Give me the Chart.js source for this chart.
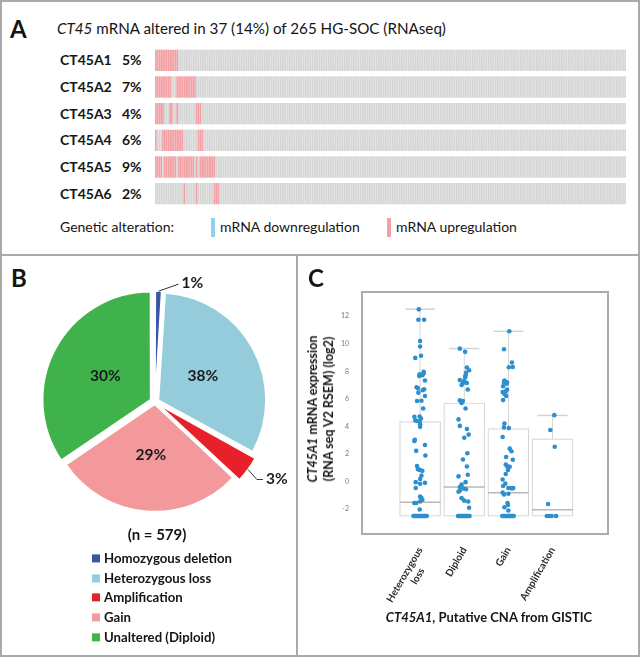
<!DOCTYPE html>
<html>
<head>
<meta charset="utf-8">
<title>CT45 figure</title>
<script src="https://cdn.jsdelivr.net/npm/chart.js@4.4.1/dist/chart.umd.min.js"></script>
<style>
  body { margin: 0; background: #fff; }
  #fig { position: relative; width: 640px; height: 657px; font-family: Lato, "Open Sans", sans-serif; color: #151515; overflow: hidden; background: #fff; }
  .t { position: absolute; white-space: nowrap; line-height: 1; transform: translateY(-50%); }
  .rule { position: absolute; background: #a9a9a9; }
  canvas { position: absolute; }
  .letter { font-size: 24px; font-weight: 700; }
  .gene { font-size: 14px; font-weight: 700; }
  .key { position: absolute; width: 4px; height: 19px; }
  .sq { display: inline-block; width: 8px; height: 8px; margin-right: 4px; vertical-align: 1px; }
</style>
</head>
<body>
<div id="fig">
  <div class="rule" style="left:0;top:0;width:640px;height:2px"></div>
  <div class="rule" style="left:0;top:655px;width:640px;height:2px"></div>
  <div class="rule" style="left:0;top:0;width:2px;height:657px"></div>
  <div class="rule" style="left:638px;top:0;width:2px;height:657px"></div>
  <div class="rule" style="left:0;top:254px;width:640px;height:2px"></div>
  <div class="rule" style="left:296px;top:254px;width:2px;height:403px"></div>

  <!-- panel A -->
  <div class="t letter" style="left:10px;top:29px">A</div>
  <div class="t" style="left:57px;top:29px;font-size:15.2px"><i>CT45</i> mRNA altered in 37 (14%) of 265 HG-SOC (RNAseq)</div>
  <canvas id="onco" width="471" height="160" style="left:155px;top:47px"></canvas>
  <div id="geneLabels"></div>
  <div class="t" style="left:60px;top:227px;font-size:14px">Genetic alteration:</div>
  <div class="key" style="left:211px;top:218px;background:#8fd1f0"></div>
  <div class="t" style="left:220px;top:227px;font-size:14px">mRNA downregulation</div>
  <div class="key" style="left:387px;top:218px;background:#f3a1a5"></div>
  <div class="t" style="left:396px;top:227px;font-size:14px">mRNA upregulation</div>

  <!-- panel B -->
  <div class="t letter" style="left:11px;top:278px">B</div>
  <canvas id="pie" width="285" height="260" style="left:25px;top:272px"></canvas>
  <div class="t" id="nCases" style="left:157px;top:534px;font-size:15px;font-weight:700;transform:translate(-50%,-50%)"></div>
  <div id="pieLegend"></div>

  <!-- panel C -->
  <div class="t letter" style="left:308px;top:278px">C</div>
  <canvas id="cna" width="330" height="370" style="left:300px;top:270px"></canvas>
  <div class="t" style="left:321px;top:409px;font-size:12.5px;font-weight:700;line-height:16px;text-align:center;transform:translate(-50%,-50%) rotate(-90deg)"><i>CT45A1</i> mRNA expression<br>(RNA seq V2 RSEM) (log2)</div>
  <div class="t" style="left:489px;top:617px;font-size:13px;font-weight:700;transform:translate(-50%,-50%)"><i>CT45A1</i>, Putative CNA from GISTIC</div>
</div>

<script>
Chart.defaults.font.family = 'Lato, "Open Sans", sans-serif';

// ---- panel A: oncoprint ----
const sampleCount = 265;
const genes = ['CT45A1', 'CT45A2', 'CT45A3', 'CT45A4', 'CT45A5', 'CT45A6'];
const genePct = ['5%', '7%', '4%', '6%', '9%', '2%'];
// sample columns (sorted order) with mRNA upregulation
const upA1 = [0, 1, 2, 3, 4, 5, 6, 7, 8, 9, 10, 11, 12];
const upA2 = [0, 1, 2, 3, 4, 5, 6, 7, 8, 12, 13, 14, 15, 16, 17, 18, 19, 20, 21, 22];
const upA3 = [0, 1, 2, 3, 4, 8, 9, 12, 23, 24, 25];
const upA4 = [0, 4, 5, 6, 7, 8, 9, 10, 11, 12, 13, 14, 15, 24, 25, 26];
const upA5 = [0, 1, 2, 3, 5, 6, 7, 8, 9, 10, 11, 13, 14, 15, 16, 17, 18, 19, 20, 21, 23, 25, 26, 27, 28, 29, 30, 31, 32, 33];
const upA6 = [16, 23, 33, 34, 35];
const upregulated = [upA1, upA2, upA3, upA4, upA5, upA6];

// ---- panel B: putative CNA pie ----
const cnaStates = ['Homozygous deletion', 'Heterozygous loss', 'Amplification', 'Gain', 'Unaltered (Diploid)'];
const sliceShare = [1, 32, 4, 28.5, 34.5];          // slice sizes as drawn
const sliceLabels = ['1%', '38%', '3%', '29%', '30%']; // percentages printed on the figure
const caseCount = 579;

// ---- panel C: CT45A1 expression by CNA ----
const cnaGroups = [['Heterozygous', 'loss       '], 'Diploid', 'Gain', 'Amplification'];
const boxQ1 = [-2.5, -2.5, -2.5, -2.5];
const boxMedian = [-1.5, -0.4, -0.8, -2.05];
const boxQ3 = [4.35, 5.7, 3.85, 3.1];
const whiskerMax = [12.5, 9.65, 10.9, 4.8];

const hetExpr = [12.49, 11.74, 11.74, 10.2, 9.8, 9.13, 8.97, 7.96, 7.85, 7.78, 7.71, 7.66, 7.33, 6.84, 6.77, 6.7, 6.63, 6.45, 6.21, 5.86, 5.84, 5.3,
  4.72, 4.7, 4.58, 4.44, 4.4, 4.35, 4.16, 3.97, 3.04, 2.95, 2.65, 2.23, 1.89, 1.13, 0.9, 0.85, 0.78, 0.43, 0.19, -0.04, -0.09, -0.16, -0.46,
  -1.09, -1.2, -1.32, -1.44, -1.55, -1.55, -2.02,
  -2.5, -2.5, -2.5, -2.5, -2.5, -2.5, -2.5, -2.5, -2.5, -2.5, -2.5, -2.5, -2.5, -2.5, -2.5, -2.5];
const hetJitter = [-0.03, -0.04, 0.09, 0, 0, 0.02, -0.11, 0.08, 0.08, -0.01, 0.05, -0.02, 0.11, -0.08, -0.05, 0.09, 0.06, -0.04, 0.11, 0.03, -0.07, 0.07,
  -0.01, -0.13, 0.02, -0.11, -0.07, -0.01, 0, 0, -0.12, -0.13, 0.11, -0.09, 0.12, -0.07, -0.05, -0.01, 0.05, 0.03, 0, -0.1, 0.11, 0, -0.1,
  0, 0.03, 0.05, 0, -0.13, -0.09, -0.01,
  -0.15, -0.13, -0.11, -0.09, -0.07, -0.05, -0.03, -0.01, 0.01, 0.03, 0.05, 0.07, 0.09, 0.11, 0.13, 0.15];

const dipExpr = [9.64, 9.41, 8.27, 8.08, 7.89, 7.71, 7.57, 7.36, 7.31, 7.15, 7.15, 7.01, 6.68, 5.89, 5.84, 5.7, 5.3, 4.51, 4.04, 3.81, 3.41, 3.18,
  2.06, 1.6, 1.1, 0.5, 0.38, -0.04, -0.22, -0.39, -0.5, -0.55, -0.64, -0.74, -1.2, -1.38, -1.44, -1.9,
  -2.5, -2.5, -2.5, -2.5, -2.5, -2.5, -2.5, -2.5, -2.5, -2.5, -2.5, -2.5, -2.5, -2.5];
const dipJitter = [-0.1, 0.02, 0.06, 0.11, 0.04, 0.03, 0.02, -0.1, 0, -0.03, 0.06, -0.06, 0.08, -0.1, -0.03, -0.06, 0.03, -0.13, -0.1, 0.06, 0.1, 0,
  0.07, -0.03, 0.06, 0.08, -0.13, 0.03, -0.06, -0.1, -0.02, 0.04, -0.1, -0.13, -0.06, 0, 0.09, 0.11,
  -0.14, -0.12, -0.1, -0.08, -0.06, -0.04, -0.02, 0, 0.02, 0.04, 0.06, 0.08, 0.1, 0.12];

const gainExpr = [10.9, 9.6, 8.64, 8.31, 8.29, 7.33, 7.24, 7.19, 7.19, 7.1, 6.91, 6.68, 6.54, 6.49, 6.35, 6.21, 5.91, 4.21, 3.93, 3.88, 3.23,
  2.39, 2.2, 1.78, 1.59, 1.24, 1.13, 1.08, 0.85, 0.55, 0.15, -0.15, -0.32, -0.46, -0.46, -0.5, -0.46, -0.79, -0.93, -0.88, -1.55, -1.69, -1.86, -2.1,
  -2.5, -2.5, -2.5, -2.5, -2.5, -2.5, -2.5, -2.5, -2.5, -2.5, -2.5, -2.5, -2.5, -2.5];
const gainJitter = [0.02, -0.1, 0.08, 0.1, 0.01, -0.09, -0.06, -0.03, -0.1, -0.04, -0.12, -0.03, -0.06, -0.13, -0.09, -0.05, -0.12, -0.09, -0.1, 0.01, -0.13,
  0.03, 0.07, -0.05, 0.1, -0.06, -0.03, 0.03, -0.01, -0.06, -0.13, -0.07, -0.12, 0, 0.04, 0.08, 0.11, -0.13, -0.1, 0, -0.02, -0.01, -0.09, 0,
  -0.14, -0.12, -0.1, -0.08, -0.06, -0.04, -0.02, 0, 0.02, 0.04, 0.06, 0.08, 0.1, 0.12];

const ampExpr = [4.82, 3.74, 2.53, -1.62, -2.5, -2.5, -2.5, -2.5];
const ampJitter = [0.04, -0.05, 0.05, -0.1, -0.13, -0.08, -0.02, 0.08];

const groupExpr = [hetExpr, dipExpr, gainExpr, ampExpr];
const groupJitter = [hetJitter, dipJitter, gainJitter, ampJitter];

// colours
const GREY = '#d6d6d6';
const UP = '#f2a0a4';
const sliceColors = ['#3b56a5', '#94ccdc', '#e7212a', '#f4999b', '#40b24b'];
const DOT = '#2e8fcf';

// ================= panel A =================
const sampleIds = Array.from({length: sampleCount}, (_, k) => 'S' + (k + 1));
const onco = new Chart(document.getElementById('onco'), {
  type: 'bar',
  data: {
    labels: sampleIds,
    datasets: genes.map((g, i) => ({
      label: g,
      data: sampleIds.map(() => [i - 0.4, i + 0.4]),
      backgroundColor: sampleIds.map((s, k) => upregulated[i].includes(k) ? UP : GREY),
      grouped: false,
      barPercentage: 1,
      categoryPercentage: 0.96
    }))
  },
  options: {
    responsive: false,
    animation: false,
    layout: { padding: 0 },
    plugins: { legend: { display: false }, tooltip: { enabled: false } },
    scales: {
      x: { display: false },
      y: { display: false, min: -0.5, max: 5.5, reverse: true }
    }
  }
});

var labelBox = document.getElementById('geneLabels');
genes.forEach(function (g, i) {
  var y = 47 + onco.scales.y.getPixelForValue(i);
  labelBox.insertAdjacentHTML('beforeend',
    '<div class="t gene" style="left:60px;top:' + y + 'px">' + g + '</div>' +
    '<div class="t gene" style="left:122px;top:' + y + 'px">' + genePct[i] + '</div>');
});

// ================= panel B =================
const pieText = {
  id: 'pieText',
  afterDatasetsDraw(chart) {
    const ctx = chart.ctx;
    const arcs = chart.getDatasetMeta(0).data;
    ctx.save();
    ctx.font = 'bold 15.5px Lato';
    ctx.fillStyle = '#1b1b1b';
    ctx.textBaseline = 'middle';
    arcs.forEach((arc, i) => {
      const mid = (arc.startAngle + arc.endAngle) / 2;
      const fix = 1 - Math.sin(Math.min(Math.PI, arc.circumference));
      const shift = arc.options.offset / 4 * (1 + fix);
      if (sliceShare[i] > 10) {
        const r = arc.outerRadius * 0.47 + shift;
        ctx.textAlign = 'center';
        ctx.fillText(sliceLabels[i], arc.x + Math.cos(mid) * r, arc.y + Math.sin(mid) * r);
      } else {
        const r = arc.outerRadius + shift;
        const x0 = arc.x + Math.cos(mid) * r, y0 = arc.y + Math.sin(mid) * r;
        const up = Math.sin(mid) < 0;
        const x1 = x0 + (up ? 20 : 9), y1 = y0 + (up ? -7 : 10);
        const x2 = x1 + (up ? 0 : 6);
        ctx.beginPath();
        ctx.moveTo(x0, y0); ctx.lineTo(x1, y1); ctx.lineTo(x2, y1);
        ctx.strokeStyle = '#333'; ctx.lineWidth = 1; ctx.stroke();
        ctx.textAlign = 'left';
        ctx.fillText(sliceLabels[i], x2 + 3, y1 - 1);
      }
    });
    ctx.restore();
  }
};

new Chart(document.getElementById('pie'), {
  type: 'pie',
  data: {
    labels: cnaStates,
    datasets: [{
      data: sliceShare,
      backgroundColor: sliceColors,
      borderColor: '#ffffff',
      borderWidth: 1.5,
      offset: [8, 16, 18, 10, 20]
    }]
  },
  options: {
    responsive: false,
    animation: false,
    radius: 107,
    rotation: 0,
    layout: { padding: { left: 0, right: 25, top: 0, bottom: 0 } },
    plugins: { legend: { display: false }, tooltip: { enabled: false } }
  },
  plugins: [pieText]
});

document.getElementById('nCases').textContent = '(n = ' + caseCount + ')';
var legBox = document.getElementById('pieLegend');
cnaStates.forEach(function (s, i) {
  legBox.insertAdjacentHTML('beforeend',
    '<div class="t" style="left:92px;top:' + (559 + i * 19.7) + 'px;font-size:13.2px;font-weight:700">' +
    '<span class="sq" style="background:' + sliceColors[i] + '"></span>' + s + '</div>');
});

// ================= panel C =================
const plotFrame = {
  id: 'plotFrame',
  afterDraw(chart) {
    const { ctx, chartArea: a } = chart;
    ctx.save();
    ctx.strokeStyle = '#ababab';
    ctx.lineWidth = 2;
    ctx.strokeRect(a.left, a.top, a.right - a.left, a.bottom - a.top);
    ctx.restore();
  }
};

const points = [];
groupExpr.forEach((ys, g) => {
  ys.forEach((y, k) => points.push({ x: g + 1 + groupJitter[g][k], y: y }));
});

const whiskers = cnaGroups.map((g, i) => ({
  type: 'line',
  data: [{ x: i + 1, y: boxQ3[i] }, { x: i + 1, y: whiskerMax[i] }],
  borderColor: '#d4d4d4',
  borderWidth: 1,
  pointRadius: 0,
  order: 3
}));

new Chart(document.getElementById('cna'), {
  type: 'bar',
  data: {
    datasets: [
      {
        type: 'scatter',
        data: points,
        backgroundColor: DOT,
        borderWidth: 0,
        pointRadius: 2.3,
        order: 0
      },
      {
        type: 'scatter',
        data: cnaGroups.map((g, i) => ({ x: i + 1, y: boxMedian[i] })),
        pointStyle: 'line',
        pointRadius: 20.5,
        borderColor: '#b8b8b8',
        borderWidth: 1.5,
        order: 1
      },
      {
        type: 'scatter',
        data: cnaGroups.map((g, i) => ({ x: i + 1, y: whiskerMax[i] })),
        pointStyle: 'line',
        pointRadius: 15,
        borderColor: '#d4d4d4',
        borderWidth: 1.5,
        order: 1
      },
      {
        type: 'bar',
        data: cnaGroups.map((g, i) => ({ x: i + 1, y: [boxQ1[i], boxQ3[i]] })),
        backgroundColor: '#ffffff',
        borderColor: '#d6d6d6',
        borderWidth: 1.2,
        borderSkipped: false,
        barThickness: 41,
        order: 4
      }
    ].concat(whiskers)
  },
  options: {
    responsive: false,
    animation: false,
    layout: { padding: { top: 13, right: 13, left: 0, bottom: 0 } },
    plugins: { legend: { display: false }, tooltip: { enabled: false } },
    scales: {
      x: {
        type: 'linear',
        min: 0.38,
        max: 4.56,
        grid: { display: false },
        border: { display: false },
        afterBuildTicks: s => { s.ticks = cnaGroups.map((g, i) => ({ value: i + 1 })); },
        afterFit: s => { s.height = 106; },
        ticks: {
          minRotation: 60,
          maxRotation: 60,
          padding: 3,
          color: '#2a2a2a',
          font: { size: 10, weight: 'bold' },
          callback: v => cnaGroups[v - 1]
        }
      },
      y: {
        type: 'linear',
        min: -3.8,
        max: 13.75,
        grid: { display: false },
        border: { display: false },
        afterBuildTicks: s => { s.ticks = [-2, 0, 2, 4, 6, 8, 10, 12].map(v => ({ value: v })); },
        afterFit: s => { s.width = 62; },
        ticks: { padding: 5, color: '#7a7a7a', font: { size: 7 } }
      }
    }
  },
  plugins: [plotFrame]
});
</script>
</body>
</html>
